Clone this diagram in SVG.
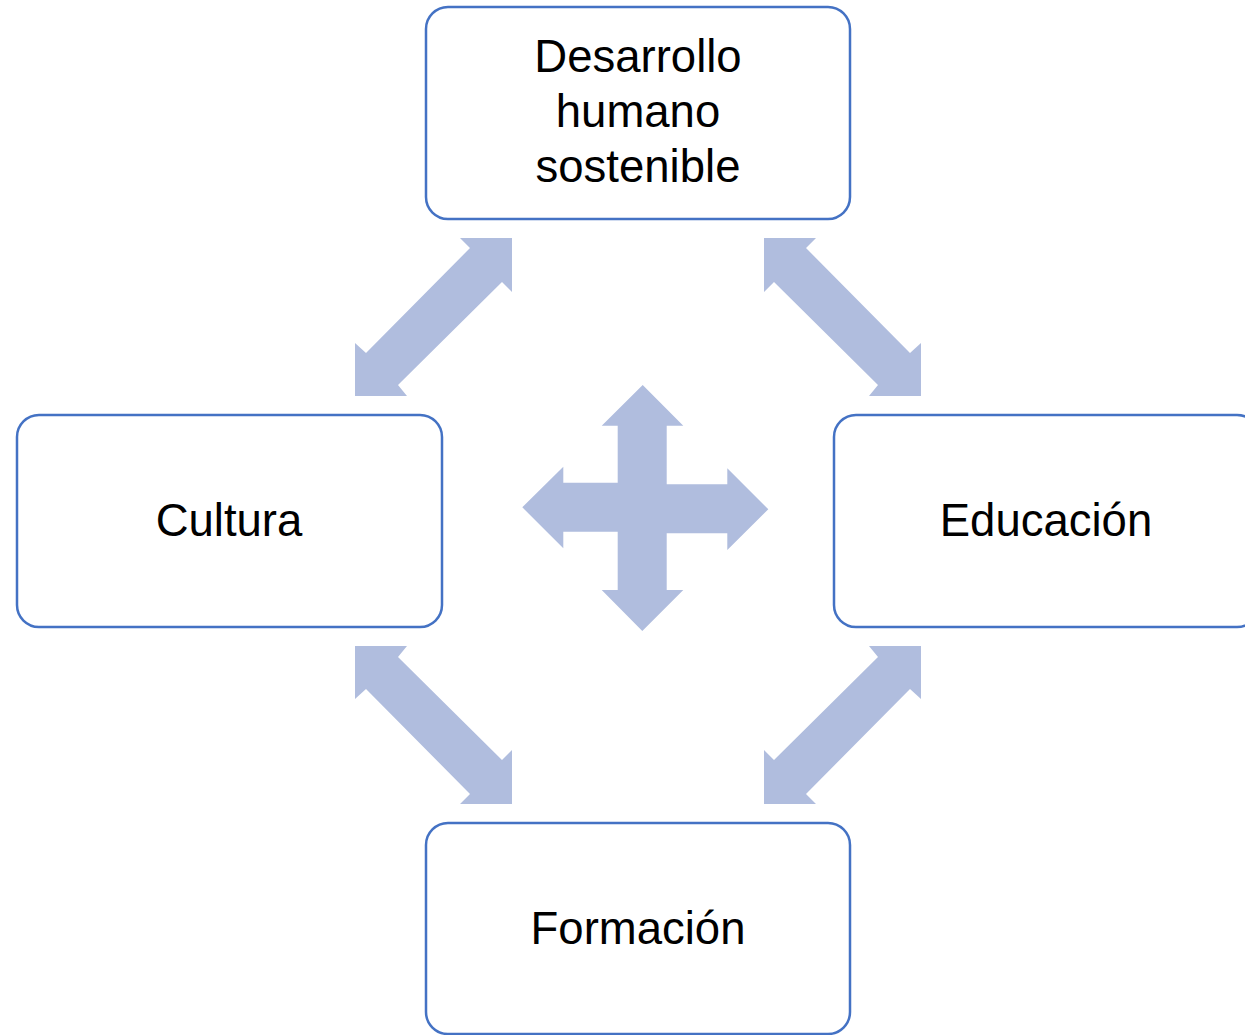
<svg xmlns="http://www.w3.org/2000/svg" width="1245" height="1035" viewBox="0 0 1245 1035">
<style>
.box{fill:#fff;stroke:#4472C4;stroke-width:2.5}
.lbl{font-family:"Liberation Sans",Arial,sans-serif;font-size:45.5px;fill:#000;text-anchor:middle}
.arr{fill:#B0BDDE}
</style>
<defs>
<polygon id="diag" points="512,238 512,292 502,282 398,385 407,396 355,396 355,343 366,353 470,248 460,238"/>
</defs>
<rect width="1245" height="1035" fill="#fff"/>
<g id="connectors">
<use href="#diag" class="arr"/>
<use href="#diag" class="arr" transform="translate(1276,0) scale(-1,1)"/>
<use href="#diag" class="arr" transform="translate(0,1042) scale(1,-1)"/>
<use href="#diag" class="arr" transform="translate(1276,1042) scale(-1,-1)"/>
<polygon class="arr" points="642.7,385 683.3,425.7 666.7,425.7 666.7,484.3 727.3,484.3 727.3,468.3 768.3,509.3 727.3,550 727.3,533.3 666.7,533.3 666.7,590 683.3,590 642.3,631 601.7,590 617.7,590 617.7,531.7 563.3,531.7 563.3,548.3 522.3,507.3 563.3,466.7 563.3,482.7 617.7,482.7 617.7,425.7 601.7,425.7"/>
</g>
<g id="node-desarrollo">
<rect class="box" x="426" y="7" width="424" height="212" rx="22"/>
<text class="lbl" x="638" y="72">Desarrollo</text>
<text class="lbl" x="638" y="127">humano</text>
<text class="lbl" x="638" y="182">sostenible</text>
</g>
<g id="node-cultura">
<rect class="box" x="17" y="415" width="425" height="212" rx="22"/>
<text class="lbl" x="229" y="536">Cultura</text>
</g>
<g id="node-educacion">
<rect class="box" x="834" y="415" width="425" height="212" rx="22"/>
<text class="lbl" x="1046" y="536">Educación</text>
</g>
<g id="node-formacion">
<rect class="box" x="426" y="823" width="424" height="211" rx="22"/>
<text class="lbl" x="638" y="944">Formación</text>
</g>
</svg>
